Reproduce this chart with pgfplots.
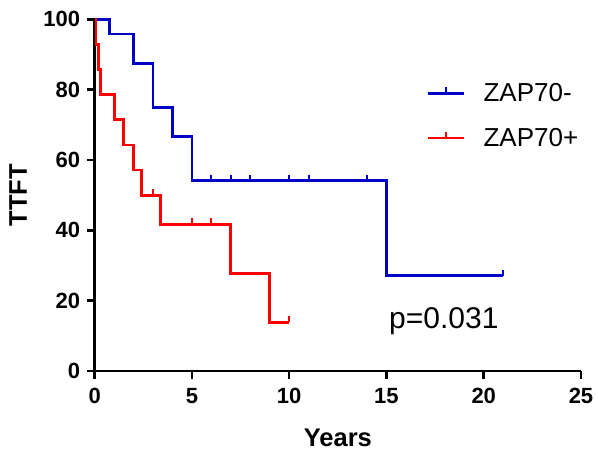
\documentclass[border=0pt]{standalone}
\usepackage{fontspec}
\setmainfont{Liberation Sans}
\usepackage{pgfplots}
\pgfplotsset{compat=1.18}
\definecolor{kmblue}{RGB}{0,0,200}
\definecolor{kmred}{RGB}{255,0,0}
% censor tick: short stroke pointing up from the curve
\pgfdeclareplotmark{cens}{%
  \pgfpathmoveto{\pgfpoint{0pt}{0pt}}%
  \pgfpathlineto{\pgfpoint{0pt}{\pgfplotmarksize}}%
  \pgfusepathqstroke}
\begin{document}
\begin{tikzpicture}
\useasboundingbox (-94.7pt,-86pt) rectangle (503.3pt,371pt);
\begin{axis}[
    at={(0,0)}, anchor=south west,
    scale only axis,
    width=486.3pt, height=351.6pt,
    xmin=0, xmax=25, ymin=0, ymax=100,
    xtick={0,5,...,25}, ytick={0,20,...,100},
    axis lines=left,
    axis line style={-, line width=2.5pt, black},
    tick align=outside,
    major tick length=8pt,
    tick style={line width=2.5pt, black},
    /pgf/number format/assume math mode=true,
    tick label style={font=\fontsize{22}{24}\selectfont\bfseries},
    xticklabel style={yshift=-6pt},
    yticklabel style={xshift=-3pt},
    xlabel={Years}, ylabel={TTFT},
    label style={font=\fontsize{25.5}{28}\selectfont\bfseries},
    xlabel style={at={(axis description cs:0.5,-0.2153)}, anchor=base},
    ylabel style={at={(axis description cs:-0.1577,0.5)}, anchor=center},
    clip=false,
    legend image code/.code={
        \draw[#1, line width=2.6pt] (0pt,0pt) -- (36pt,0pt);
        \draw[#1, line width=2pt] (18pt,0pt) -- (18pt,6pt);
    },
    legend style={at={(axis cs:17.07,72.6)}, anchor=west, draw=none, fill=none,
        inner sep=0pt, font=\fontsize{26}{28}\selectfont,
        row sep=21pt, column sep=16pt},
    legend cell align=left,
]
% ZAP70- (negative)
\addplot[kmblue, line width=2.8pt, const plot, line join=miter] coordinates {
    (0,100) (0.75,95.83) (2,87.5) (3,75) (4,66.67) (5,54.17) (15,27.08) (21,27.08)
};
\addlegendentry{ZAP70-}
% ZAP70+ (positive)
\addplot[kmred, line width=2.8pt, const plot, line join=miter] coordinates {
    (0,100) (0.07,92.86) (0.2,85.71) (0.3,78.57) (1,71.43) (1.5,64.29) (2,57.14)
    (2.4,50) (3.4,41.67) (7,27.78) (9,13.89) (10,13.89)
};
\addlegendentry{ZAP70+}
% censored observations
\addplot[kmblue, only marks, mark=cens, mark size=6pt, line width=2pt, forget plot] coordinates {
    (6,54.17) (7,54.17) (8,54.17) (10,54.17) (11,54.17) (14,54.17) (21,27.08)
};
\addplot[kmred, only marks, mark=cens, mark size=6pt, line width=2pt, forget plot] coordinates {
    (3,50) (5,41.67) (6,41.67) (10,13.89)
};
\node[anchor=base west, font=\fontsize{30}{32}\selectfont] at (axis cs:14.96,12.13) {p=0.031};
\end{axis}
\end{tikzpicture}
\end{document}
